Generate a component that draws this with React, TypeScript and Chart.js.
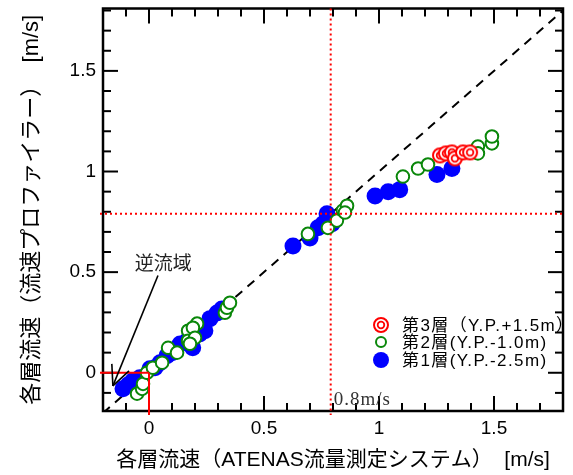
import React, { useEffect, useRef } from "react";
import { Chart, registerables } from "chart.js";

Chart.register(...registerables);

// ---- tick labels / titles ----
const X_TICKS = [0, 0.5, 1, 1.5];
const Y_TICKS = [0, 0.5, 1, 1.5];
const X_TITLE = "各層流速（ATENAS流量測定システム）  [m/s]";
const Y_TITLE = "各層流速（流速プロファイラー）  [m/s]";
const SERIES_LABELS = ["第3層（Y.P.+1.5m）", "第2層(Y.P.-1.0m)", "第1層(Y.P.-2.5m)"];

// ---- 第3層 (Y.P.+1.5m) ----
const L3_X = [1.265, 1.291, 1.317, 1.33, 1.365, 1.396];
const L3_Y = [1.08, 1.09, 1.095, 1.065, 1.095, 1.095];

// ---- 第2層 (Y.P.-1.0m) ----
const L2_X = [-0.052, -0.03, -0.026, -0.009, 0.017, 0.057, 0.083, 0.122, 0.17, 0.209, 0.191, 0.17, 0.2, 0.178, 0.33, 0.339, 0.352, 0.691, 0.778, 0.817, 0.843, 0.861, 0.852, 1.104, 1.17, 1.213, 1.43, 1.43, 1.491, 1.491];
const L2_Y = [-0.104, -0.08, -0.055, 0.0, 0.025, 0.05, 0.124, 0.1, 0.209, 0.244, 0.224, 0.159, 0.174, 0.144, 0.298, 0.323, 0.348, 0.69, 0.72, 0.756, 0.806, 0.83, 0.796, 0.975, 1.015, 1.035, 1.124, 1.09, 1.14, 1.174];

// ---- 第1層 (Y.P.-2.5m) ----
const L1_X = [-0.113, -0.09, -0.07, -0.04, 0.004, 0.026, 0.048, 0.078, 0.1, 0.135, 0.165, 0.19, 0.187, 0.22, 0.243, 0.265, 0.296, 0.317, 0.626, 0.7, 0.735, 0.757, 0.774, 0.796, 0.983, 1.04, 1.09, 1.252, 1.317];
const L1_Y = [-0.08, -0.06, -0.04, -0.025, 0.02, 0.025, 0.05, 0.085, 0.1, 0.143, 0.158, 0.124, 0.193, 0.193, 0.209, 0.269, 0.297, 0.317, 0.63, 0.67, 0.72, 0.74, 0.79, 0.74, 0.878, 0.9, 0.91, 0.985, 1.015];

// ---- 1:1 line ----
const REF_X = [-0.2, 1.8];
const REF_Y = [-0.2, 1.8];

// ---- annotations (data units) ----
const THRESHOLD = 0.79;
const THRESHOLD_LABEL = "0.8m/s";
const REVERSE_LABEL = "逆流域";
const REVERSE_TEXT_AT = [0.062, 0.545];
const REVERSE_TAIL = [0.039, 0.483];
const REVERSE_TIP = [-0.157, -0.065];

const SANS = '"Liberation Sans", Arial, "Noto Sans CJK JP", sans-serif';
const RED = "#ff0000";
const GREEN = "#0a870a";
const BLUE = "#0000ff";

function makeDoubleCircle(): HTMLCanvasElement {
  const c = document.createElement("canvas");
  c.width = 18;
  c.height = 18;
  const g = c.getContext("2d")!;
  g.beginPath();
  g.arc(9, 9, 7, 0, Math.PI * 2);
  g.fillStyle = "#fff";
  g.fill();
  g.lineWidth = 2;
  g.strokeStyle = RED;
  g.stroke();
  g.beginPath();
  g.arc(9, 9, 3.3, 0, Math.PI * 2);
  g.lineWidth = 1.8;
  g.stroke();
  return c;
}

const pts = (xs: number[], ys: number[]) => xs.map((x, i) => ({ x, y: ys[i] }));

export default function App() {
  const ref = useRef<HTMLCanvasElement>(null);
  useEffect(() => {
    const canvas = ref.current!;
    const dbl = makeDoubleCircle();

    const deco = {
      id: "deco",
      afterDatasetsDraw(chart: any) {
        const { ctx, chartArea } = chart;
        const { left, right, top, bottom } = chartArea;
        const xs = chart.scales.x;
        const ys = chart.scales.y;
        const line = (a: number, b: number, c: number, d: number) => {
          ctx.beginPath();
          ctx.moveTo(a, b);
          ctx.lineTo(c, d);
          ctx.stroke();
        };
        ctx.save();
        // ticks (inward, all sides)
        ctx.strokeStyle = "#000";
        ctx.lineWidth = 2;
        for (let i = -2; i <= 18; i++) {
          const v = i / 10;
          const len = i % 5 === 0 ? 15 : 8;
          if (v >= xs.min - 1e-9 && v <= xs.max + 1e-9) {
            const px = xs.getPixelForValue(v);
            line(px, bottom, px, bottom - len);
            line(px, top, px, top + len);
          }
          if (v >= ys.min - 1e-9 && v <= ys.max + 1e-9) {
            const py = ys.getPixelForValue(v);
            line(left, py, left + len, py);
            line(right, py, right - len, py);
          }
        }
        ctx.lineWidth = 2.5;
        ctx.strokeRect(left, top, right - left, bottom - top);

        // red dotted threshold lines
        ctx.strokeStyle = RED;
        ctx.lineWidth = 2;
        ctx.setLineDash([2, 3]);
        const tx = xs.getPixelForValue(THRESHOLD);
        const ty = ys.getPixelForValue(THRESHOLD);
        line(tx, top, tx, bottom + 4);
        line(left - 3, ty, right, ty);
        ctx.setLineDash([]);
        // red solid lines at origin
        const x0 = xs.getPixelForValue(0);
        const y0 = ys.getPixelForValue(0);
        line(left - 3, y0, x0, y0);
        line(x0, y0, x0, bottom + 4);

        // threshold label
        ctx.fillStyle = "#333";
        ctx.font = '19px "Liberation Serif", "DejaVu Serif", serif';
        (ctx as any).letterSpacing = "1px";
        ctx.textAlign = "left";
        ctx.textBaseline = "alphabetic";
        ctx.fillText(THRESHOLD_LABEL, tx + 3, bottom - 6);
        (ctx as any).letterSpacing = "0px";

        // reverse-flow annotation
        ctx.fillStyle = "#222";
        ctx.font = '19px "Noto Sans CJK JP", serif';
        ctx.textAlign = "center";
        ctx.textBaseline = "middle";
        ctx.fillText(REVERSE_LABEL, xs.getPixelForValue(REVERSE_TEXT_AT[0]), ys.getPixelForValue(REVERSE_TEXT_AT[1]));
        const ax = xs.getPixelForValue(REVERSE_TAIL[0]);
        const ay = ys.getPixelForValue(REVERSE_TAIL[1]);
        const bx = xs.getPixelForValue(REVERSE_TIP[0]);
        const by = ys.getPixelForValue(REVERSE_TIP[1]);
        ctx.strokeStyle = "#000";
        ctx.lineWidth = 1.6;
        line(ax, ay, bx, by);
        const ang = Math.atan2(ay - by, ax - bx);
        const hl = 22;
        const spread = (25 * Math.PI) / 180;
        line(bx, by, bx + hl * Math.cos(ang - spread), by + hl * Math.sin(ang - spread));
        line(bx, by, bx + hl * Math.cos(ang + spread), by + hl * Math.sin(ang + spread));

        // legend (inside plot)
        const lx = 381;
        const rows = [325, 342, 360];
        ctx.font = "17px " + SANS;
        (ctx as any).letterSpacing = "1.4px";
        ctx.textAlign = "left";
        ctx.textBaseline = "middle";
        // row 0: double circle
        ctx.drawImage(dbl, lx - 9, rows[0] - 9);
        // row 1: open green circle
        ctx.beginPath();
        ctx.arc(lx, rows[1], 5, 0, Math.PI * 2);
        ctx.fillStyle = "#fff";
        ctx.fill();
        ctx.strokeStyle = GREEN;
        ctx.lineWidth = 2;
        ctx.stroke();
        // row 2: filled blue
        ctx.beginPath();
        ctx.arc(lx, rows[2], 8, 0, Math.PI * 2);
        ctx.fillStyle = BLUE;
        ctx.fill();
        ctx.fillStyle = "#000";
        SERIES_LABELS.forEach((t, i) => ctx.fillText(t, lx + 21, rows[i] + 1));
        (ctx as any).letterSpacing = "0px";
        ctx.restore();
      },
    };

    const tickCfg = (list: number[]) => ({
      afterBuildTicks: (s: any) => {
        s.ticks = list.map((v) => ({ value: v }));
      },
    });

    const chart = new Chart(canvas, {
      type: "scatter",
      data: {
        datasets: [
          {
            label: SERIES_LABELS[0],
            data: pts(L3_X, L3_Y),
            pointStyle: dbl as any,
            pointRadius: 7,
          },
          {
            label: SERIES_LABELS[1],
            data: pts(L2_X, L2_Y),
            pointRadius: 6.3,
            pointBackgroundColor: "#fff",
            pointBorderColor: GREEN,
            pointBorderWidth: 2,
          },
          {
            label: SERIES_LABELS[2],
            data: pts(L1_X, L1_Y),
            pointRadius: 8.5,
            pointBackgroundColor: BLUE,
            pointBorderColor: BLUE,
            pointBorderWidth: 0,
          },
          {
            label: "1:1",
            data: pts(REF_X, REF_Y),
            showLine: true,
            pointRadius: 0,
            borderColor: "#000",
            borderWidth: 2,
            borderDash: [9, 7],
          } as any,
        ],
      },
      options: {
        animation: false,
        responsive: false,
        events: [],
        layout: { padding: { top: 8, right: 10, left: 0, bottom: 0 } },
        plugins: { legend: { display: false }, tooltip: { enabled: false } },
        scales: {
          x: {
            type: "linear",
            min: -0.2,
            max: 1.8,
            ...tickCfg(X_TICKS),
            afterFit: (s: any) => {
              s.height = 64;
              s.paddingLeft = 0;
              s.paddingRight = 0;
            },
            grid: { display: false, drawTicks: false },
            border: { display: false },
            ticks: {
              font: { family: SANS, size: 19 },
              color: "#000",
              padding: 6,
              maxRotation: 0,
              autoSkip: false,
              callback: (v: any) => String(v),
            },
            title: {
              display: true,
              text: X_TITLE,
              font: { family: SANS, size: 21 },
              color: "#000",
              padding: { top: 0, bottom: 2 },
            },
          },
          y: {
            type: "linear",
            min: -0.19,
            max: 1.81,
            ...tickCfg(Y_TICKS),
            afterFit: (s: any) => {
              s.width = 103;
              s.paddingTop = 0;
              s.paddingBottom = 0;
            },
            grid: { display: false, drawTicks: false },
            border: { display: false },
            ticks: {
              font: { family: SANS, size: 19 },
              color: "#000",
              padding: 7,
              autoSkip: false,
              callback: (v: any) => String(v),
            },
            title: {
              display: true,
              text: Y_TITLE,
              font: { family: SANS, size: 22 },
              color: "#000",
              padding: { top: 19, bottom: 0 },
            },
          },
        },
      },
      plugins: [deco],
    } as any);
    return () => chart.destroy();
  }, []);

  return (
    <div style={{ position: "absolute", left: 0, top: 0, width: 573, height: 475, background: "#fff" }}>
      <canvas ref={ref} width={573} height={475} style={{ width: 573, height: 475, display: "block" }} />
    </div>
  );
}
